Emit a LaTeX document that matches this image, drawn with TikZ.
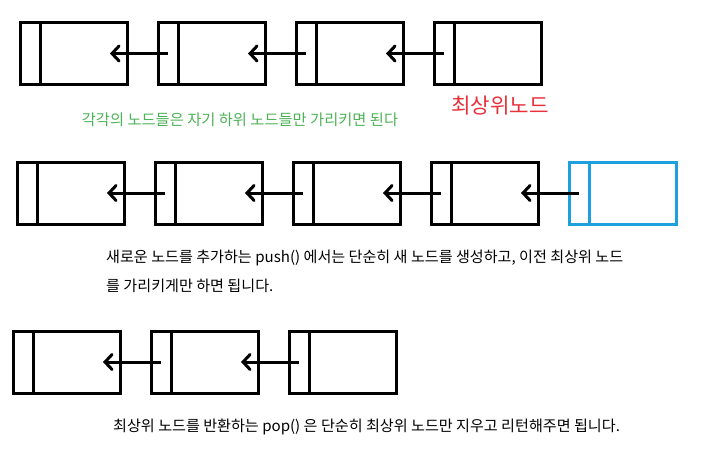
\documentclass[tikz,border=0pt]{standalone}
\usepackage{fontspec}
\setmainfont{Noto Sans CJK KR}
\usetikzlibrary{positioning,arrows.meta}
\definecolor{notegreen}{RGB}{76,178,86}
\definecolor{topred}{RGB}{232,48,58}
\definecolor{topblue}{RGB}{28,160,222}
\begin{document}
\begin{tikzpicture} [x=1pt, y=-1pt, node distance=31pt,
  ptr/.style = {shape=rectangle, draw, line width=3pt, minimum width=20pt, minimum height=62pt, inner sep=0pt, outer sep=0pt},
  data/.style = {ptr, minimum width=87pt},
  link/.style = {line width=3pt, -{Straight Barb[length=7pt, width=15pt, line cap=round]}},
  note/.style = {font=\fontsize{15.1}{18}\selectfont, inner sep=0pt}]
\useasboundingbox [fill=white] (0,0) rectangle (703,448);

% every node points to the one below it
\node (p11) [ptr] at (30,53.5) {};
\node (d11) [data, right=0pt of p11] {};
\node (p12) [ptr, right=of d11] {};
\node (d12) [data, right=0pt of p12] {};
\node (p13) [ptr, right=of d12] {};
\node (d13) [data, right=0pt of p13] {};
\node (p14) [ptr, right=of d13] {};
\node (d14) [data, right=0pt of p14] {};
\draw [link] (p12.center) -- ([xshift=-17pt]d11.east);
\draw [link] (p13.center) -- ([xshift=-17pt]d12.east);
\draw [link] (p14.center) -- ([xshift=-17pt]d13.east);
\node (top) [note, text=topred, font=\fontsize{21.2}{24}\selectfont] at (500,106) {최상위노드};
\node (rule) [note, text=notegreen, font=\fontsize{15.3}{18}\selectfont] at (240,120) {각각의 노드들은 자기 하위 노드들만 가리키면 된다};

% push
\node (p21) [ptr] at (27,193) {};
\node (d21) [data, right=0pt of p21] {};
\node (p22) [ptr, right=of d21] {};
\node (d22) [data, right=0pt of p22] {};
\node (p23) [ptr, right=of d22] {};
\node (d23) [data, right=0pt of p23] {};
\node (p24) [ptr, right=of d23] {};
\node (d24) [data, right=0pt of p24] {};
\node (p25) [ptr, draw=topblue, right=of d24] {};
\node (d25) [data, draw=topblue, right=0pt of p25] {};
\draw [link] (p22.center) -- ([xshift=-17pt]d21.east);
\draw [link] (p23.center) -- ([xshift=-17pt]d22.east);
\draw [link] (p24.center) -- ([xshift=-17pt]d23.east);
\draw [link] (p25.center) -- ([xshift=-17pt]d24.east);
\node (push1) [note, anchor=west] at (106,258) {새로운 노드를 추가하는 push() 에서는 단순히 새 노드를 생성하고, 이전 최상위 노드};
\node (push2) [note, anchor=west] at (106,286) {를 가리키게만 하면 됩니다.};

% pop
\node (p31) [ptr] at (23,362) {};
\node (d31) [data, right=0pt of p31] {};
\node (p32) [ptr, right=of d31] {};
\node (d32) [data, right=0pt of p32] {};
\node (p33) [ptr, right=of d32] {};
\node (d33) [data, right=0pt of p33] {};
\draw [link] (p32.center) -- ([xshift=-17pt]d31.east);
\draw [link] (p33.center) -- ([xshift=-17pt]d32.east);
\node (pop) [note, anchor=west] at (113,427) {최상위 노드를 반환하는 pop() 은 단순히 최상위 노드만 지우고 리턴해주면 됩니다.};
\end{tikzpicture}
\end{document}
